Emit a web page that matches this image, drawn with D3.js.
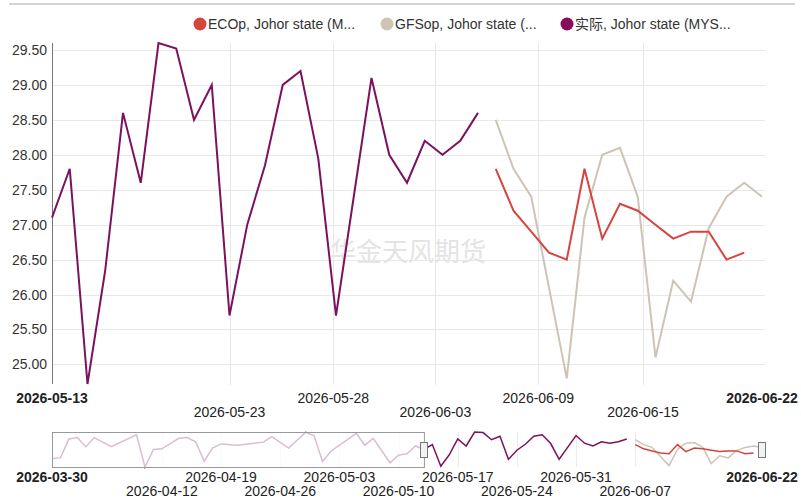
<!DOCTYPE html>
<html>
<head>
<meta charset="utf-8">
<script src="https://cdn.jsdelivr.net/npm/d3@7"></script>
<style>
  body { margin: 0; background: #fff; }
  svg text { font-family: "Liberation Sans", Arial, sans-serif; }
</style>
</head>
<body>
<div id="chart"></div>
<script>
const width = 801
const height = 498

// series names
const names = ['ECOp, Johor state (M...', 'GFSop, Johor state (...', '实际, Johor state (MYS...']
const colors = ['#d6453d', '#cdc4b6', '#7b1260']

// daily values, main window starts 2026-05-13
const actualStart = '2026-05-13'
const actual = [27.1, 27.8, 24.72, 26.35, 28.6, 27.6, 29.6, 29.52, 28.5, 29.0,
  25.7, 27.0, 27.85, 29.0, 29.2, 27.95, 25.7, 27.4, 29.1, 28.0,
  27.6, 28.2, 28.0, 28.2, 28.6]
const fcStart = '2026-06-07'
const ecop = [27.8, 27.2, 26.9, 26.6, 26.5, 27.8, 26.8, 27.3, 27.2, 27.0, 26.8, 26.9, 26.9, 26.5, 26.6]
const gfsop = [28.5, 27.8, 27.4, 26.1, 24.8, 27.1, 28.0, 28.1, 27.4, 25.1, 26.2, 25.9, 26.95, 27.4, 27.6, 27.4]

// earlier history, only seen in the navigator
const histDates = ['2026-03-30', '2026-03-31', '2026-04-01', '2026-04-02', '2026-04-03', '2026-04-04',
  '2026-04-06', '2026-04-09', '2026-04-10', '2026-04-11', '2026-04-12', '2026-04-14', '2026-04-15',
  '2026-04-16', '2026-04-17', '2026-04-18', '2026-04-19', '2026-04-21', '2026-04-24', '2026-04-25',
  '2026-04-27', '2026-04-29', '2026-04-30', '2026-05-01', '2026-05-02', '2026-05-05', '2026-05-06',
  '2026-05-07', '2026-05-09', '2026-05-10', '2026-05-11', '2026-05-12']
const histVals = [25.8, 25.9, 28.6, 28.8, 27.5, 28.8,
  27.5, 29.2, 24.6, 27.1, 27.2, 28.7, 28.8,
  28.2, 25.4, 27.3, 27.9, 27.7, 28.15, 28.95,
  27.3, 29.55, 29.1, 25.4, 26.85, 29.4, 27.7,
  28.7, 25.2, 26.3, 26.5, 27.6]

// axis labels
const yTicks = [25.0, 25.5, 26.0, 26.5, 27.0, 27.5, 28.0, 28.5, 29.0, 29.5]
const xTickLabels = ['2026-05-13', '2026-05-23', '2026-05-28', '2026-06-03', '2026-06-09', '2026-06-15', '2026-06-22']
const xTickAt = [0, 10, 15.85, 21.6, 27.4, 33.3, 40]   // day offset from 2026-05-13 where the label sits
const navTickLabels = ['2026-03-30', '2026-04-12', '2026-04-19', '2026-04-26', '2026-05-03', '2026-05-10',
  '2026-05-17', '2026-05-24', '2026-05-31', '2026-06-07', '2026-06-22']
const navStart = '2026-03-30'
const navEnd = '2026-06-22'
const watermark = '华金天风期货'

const parse = d3.utcParse('%Y-%m-%d')
const DAY = 864e5
const daily = (start, vals) => vals.map((v, i) => ({ date: new Date(parse(start).getTime() + i * DAY), value: v }))

const actualData = daily(actualStart, actual)
const ecopData = daily(fcStart, ecop)
const gfsopData = daily(fcStart, gfsop)
const histData = histDates.map((d, i) => ({ date: parse(d), value: histVals[i] }))

const svg = d3.select('#chart').append('svg')
  .attr('width', width)
  .attr('height', height)

// top rule
svg.append('rect').attr('x', 9).attr('y', 3).attr('width', 786).attr('height', 2).attr('fill', '#d4d4d4')

const plot = { left: 52, right: 762, top: 43, bottom: 384 }

const x = d3.scaleUtc()
  .domain([parse(actualStart), parse(navEnd)])
  .range([plot.left, plot.right])

const allMain = actual.concat(ecop, gfsop)
const y = d3.scaleLinear()
  .domain(d3.extent(allMain))
  .range([plot.bottom, plot.top])

// horizontal grid
svg.append('g')
  .selectAll('line')
  .data(yTicks)
  .join('line')
    .attr('x1', plot.left).attr('x2', plot.right + 3)
    .attr('y1', d => Math.round(y(d)) + 0.5).attr('y2', d => Math.round(y(d)) + 0.5)
    .attr('stroke', '#e8e8e8')

// vertical grid
const xTickDates = xTickAt.map(o => new Date(parse(actualStart).getTime() + o * DAY))
svg.append('g')
  .selectAll('line')
  .data(xTickDates.slice(1, -1))
  .join('line')
    .attr('x1', d => Math.round(x(d)) + 0.5).attr('x2', d => Math.round(x(d)) + 0.5)
    .attr('y1', plot.top).attr('y2', plot.bottom + 1)
    .attr('stroke', '#e8e8e8')

// y axis
const yAxis = svg.append('g')
  .attr('transform', `translate(${plot.left},0)`)
  .call(d3.axisLeft(y).tickValues(yTicks).tickFormat(d3.format('.2f')).tickSize(0).tickPadding(5))
yAxis.select('.domain').attr('stroke', '#777').attr('d', `M0.5,${plot.top}V${plot.bottom}`)
yAxis.selectAll('text').attr('font-size', 14).attr('fill', '#333')

// x labels, two rows
svg.append('g')
  .selectAll('text')
  .data(xTickLabels)
  .join('text')
    .attr('x', (d, i) => x(xTickDates[i]))
    .attr('y', (d, i) => i % 2 ? 417 : 403)
    .attr('text-anchor', 'middle')
    .attr('font-size', 14)
    .attr('font-weight', (d, i) => (i === 0 || i === xTickLabels.length - 1) ? 'bold' : 'normal')
    .attr('fill', '#222')
    .text(d => d)

// watermark
svg.append('text')
  .attr('x', 408).attr('y', 261)
  .attr('text-anchor', 'middle')
  .attr('font-size', 26)
  .style('font-family', '"Noto Sans CJK SC", sans-serif')
  .attr('fill', '#e4e4e4')
  .text(watermark)

const line = d3.line().x(d => x(d.date)).y(d => y(d.value))

svg.append('path').datum(gfsopData).attr('d', line)
  .attr('fill', 'none').attr('stroke', colors[1]).attr('stroke-width', 2)
svg.append('path').datum(ecopData).attr('d', line)
  .attr('fill', 'none').attr('stroke', colors[0]).attr('stroke-width', 2)
svg.append('path').datum(actualData).attr('d', line)
  .attr('fill', 'none').attr('stroke', colors[2]).attr('stroke-width', 2)

// legend
const legendX = [200, 387, 567]
const legend = svg.append('g')
  .selectAll('g')
  .data(names)
  .join('g')
    .attr('transform', (d, i) => `translate(${legendX[i]},24)`)
legend.append('circle').attr('r', 6.5).attr('fill', (d, i) => i === 2 ? '#8a0c5e' : colors[i])
legend.append('text')
  .attr('x', 8).attr('y', 5)
  .attr('font-size', 14)
  .attr('fill', '#333')
  .style('font-family', '"Liberation Sans", Arial, "Noto Sans CJK SC", sans-serif')
  .text(d => d)

// navigator
const nav = { top: 432, bottom: 467 }
const nx = d3.scaleUtc()
  .domain([parse(navStart), parse(navEnd)])
  .range([plot.left, plot.right])
const ny = d3.scaleLinear()
  .domain(d3.extent(allMain.concat(histVals)))
  .range([nav.bottom, nav.top])

const navTickDates = navTickLabels.map(parse)
svg.append('g')
  .selectAll('line')
  .data(navTickDates.slice(1, -1))
  .join('line')
    .attr('x1', d => Math.round(nx(d)) + 0.5).attr('x2', d => Math.round(nx(d)) + 0.5)
    .attr('y1', nav.top).attr('y2', nav.bottom)
    .attr('stroke', '#ececec')

const nline = d3.line().x(d => nx(d.date)).y(d => ny(d.value))
svg.append('path').datum(gfsopData).attr('d', nline)
  .attr('fill', 'none').attr('stroke', colors[1]).attr('stroke-width', 1.5)
svg.append('path').datum(ecopData).attr('d', nline)
  .attr('fill', 'none').attr('stroke', colors[0]).attr('stroke-width', 1.5)
svg.append('path').datum(histData.concat(actualData)).attr('d', nline)
  .attr('fill', 'none').attr('stroke', colors[2]).attr('stroke-width', 1.5)

// mask over the part outside the selection
const selStart = nx(parse(actualStart))
svg.append('rect')
  .attr('x', plot.left + 0.5).attr('y', nav.top + 0.5)
  .attr('width', selStart - plot.left).attr('height', nav.bottom - nav.top)
  .attr('fill', 'rgba(255,255,255,0.72)')
  .attr('stroke', '#999')

// handles
svg.append('g')
  .selectAll('rect')
  .data([parse(actualStart), parse(navEnd)])
  .join('rect')
    .attr('x', d => Math.round(nx(d)) - 3.5).attr('y', 442.5)
    .attr('width', 7).attr('height', 15)
    .attr('fill', '#f2f2f2').attr('stroke', '#777')

svg.append('g')
  .selectAll('text')
  .data(navTickLabels)
  .join('text')
    .attr('x', (d, i) => nx(navTickDates[i]))
    .attr('y', (d, i) => i % 2 ? 496 : 482)
    .attr('text-anchor', 'middle')
    .attr('font-size', 14)
    .attr('font-weight', (d, i) => (i === 0 || i === navTickLabels.length - 1) ? 'bold' : 'normal')
    .attr('fill', '#222')
    .text(d => d)
</script>
</body>
</html>
